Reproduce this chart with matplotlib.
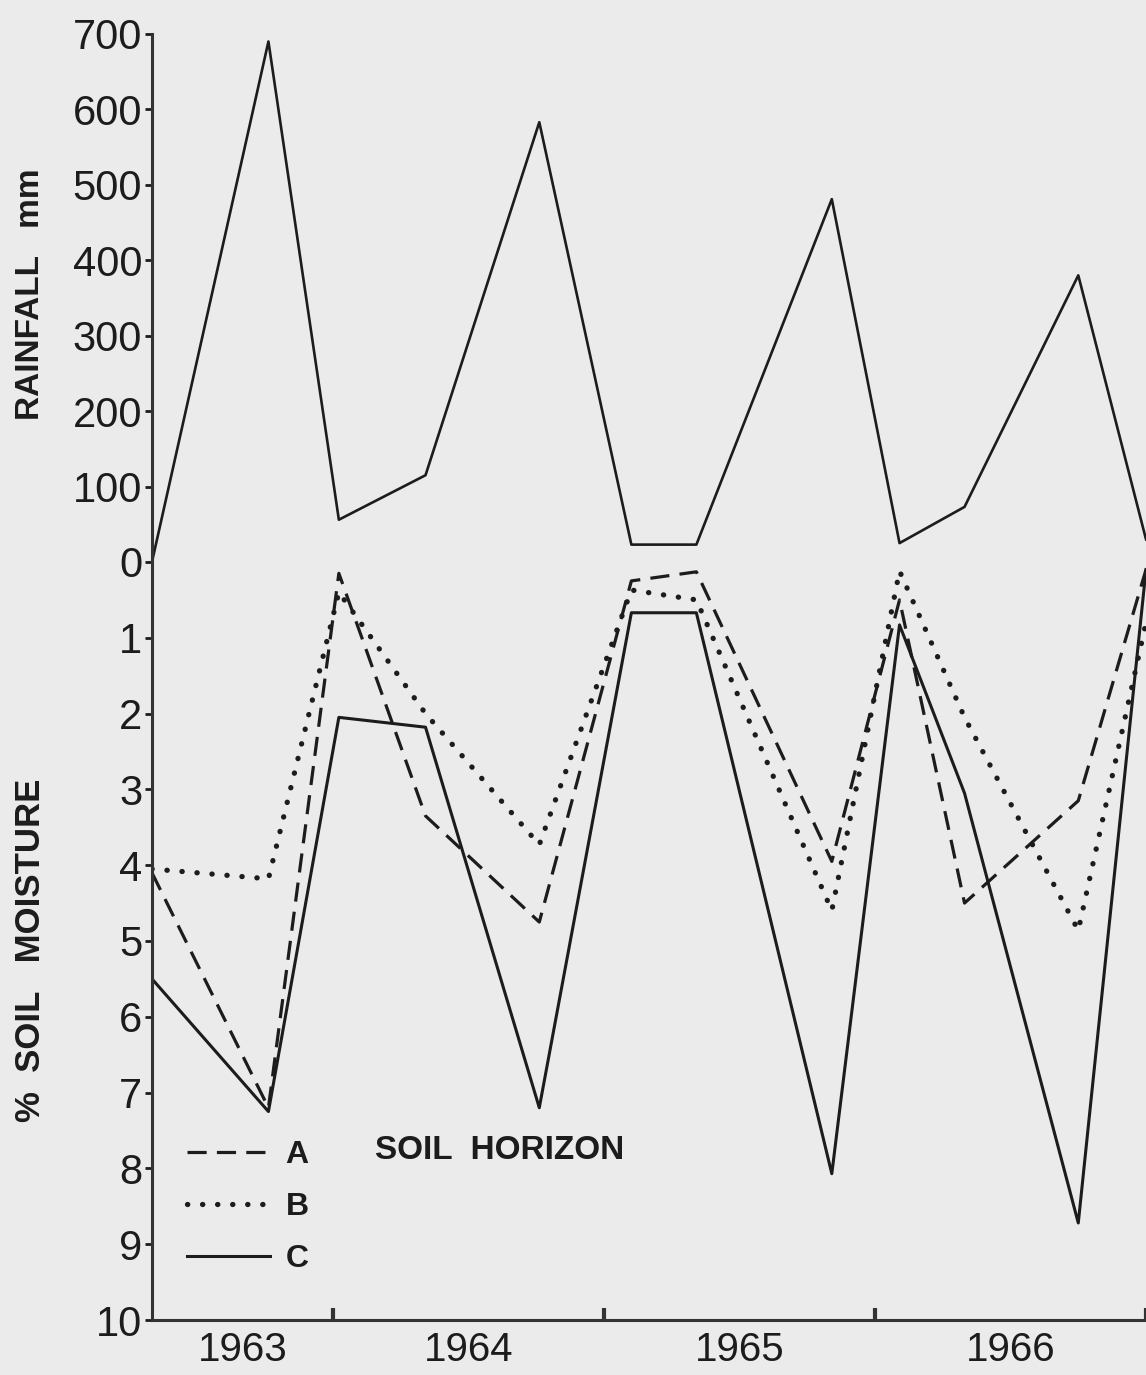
import matplotlib
matplotlib.use('Agg')
import matplotlib.pyplot as plt
from matplotlib.ticker import FixedLocator, NullFormatter

# Data section
# sample dates (decimal years), shared by rainfall and soil moisture
dates = [1963.33, 1963.76, 1964.02, 1964.34, 1964.76, 1965.10,
         1965.34, 1965.84, 1966.09, 1966.33, 1966.75, 1967.00]
rainfall = [0, 690, 56, 115, 583, 23, 23, 481, 25, 73, 380, 30]

# % soil moisture per horizon
horizon_a = [4.1, 7.2, 0.15, 3.35, 4.75, 0.25, 0.13, 3.95, 0.5, 4.5, 3.15, 0.1]
horizon_b = [4.05, 4.18, 0.4, 2.0, 3.73, 0.37, 0.5, 4.6, 0.12, 2.05, 4.86, 0.8]
horizon_c = [5.5, 7.25, 2.05, 2.18, 7.2, 0.67, 0.67, 8.07, 0.83, 3.05, 8.72, 0.1]

year_labels = ['1963', '1964', '1965', '1966']
year_label_pos = [1963.665, 1964.5, 1965.5, 1966.5]
year_bounds = [1964, 1965, 1966, 1967]

rain_ticks = [0, 100, 200, 300, 400, 500, 600, 700]
moist_ticks = [1, 2, 3, 4, 5, 6, 7, 8, 9, 10]

# Style
bg = '#ebebeb'
ink = '#1c1c1c'
plt.rcParams['font.family'] = ['Liberation Sans', 'DejaVu Sans']

fig = plt.figure(figsize=(11.46, 13.75), dpi=100, facecolor=bg)
ax_top = fig.add_axes([0.1326, 0.5913, 0.8674, 0.3840], facecolor=bg)
ax_bot = fig.add_axes([0.1326, 0.0400, 0.8674, 0.5513], facecolor=bg, sharex=ax_top)

# Rainfall panel
ax_top.plot(dates, rainfall, color=ink, lw=1.9, clip_on=False)
ax_top.set_ylim(0, 700)
ax_top.set_xlim(1963.33, 1967.0)
ax_top.set_yticks(rain_ticks)
ax_top.set_yticklabels([str(v) for v in rain_ticks])
for s in ['top', 'right', 'bottom']:
    ax_top.spines[s].set_visible(False)
ax_top.spines['left'].set_linewidth(2.2)
ax_top.spines['left'].set_color('#333333')
ax_top.tick_params(axis='y', direction='out', length=5, width=2, pad=2,
                   labelsize=30, colors=ink)
ax_top.tick_params(axis='x', which='both', bottom=False, labelbottom=False)

# Soil moisture panel
la, = ax_bot.plot(dates, horizon_a, color=ink, lw=2.3, linestyle=(0, (6, 3.2)),
                  label='A')
lb, = ax_bot.plot(dates, horizon_b, color=ink, lw=3.8, linestyle=(0, (0.05, 2.8)),
                  dash_capstyle='round', label='B')
lc, = ax_bot.plot(dates, horizon_c, color=ink, lw=2.2, label='C')
ax_bot.set_ylim(10, 0)
ax_bot.set_yticks(moist_ticks)
ax_bot.set_yticklabels([str(v) for v in moist_ticks])
for s in ['top', 'right']:
    ax_bot.spines[s].set_visible(False)
for s in ['left', 'bottom']:
    ax_bot.spines[s].set_linewidth(2.2)
    ax_bot.spines[s].set_color('#333333')
ax_bot.tick_params(axis='y', direction='out', length=5, width=2, pad=2,
                   labelsize=30, colors=ink)

# years: boundary ticks pointing inward, labels centred in each year
ax_bot.xaxis.set_major_locator(FixedLocator(year_bounds))
ax_bot.xaxis.set_major_formatter(NullFormatter())
ax_bot.xaxis.set_minor_locator(FixedLocator(year_label_pos))
ax_bot.set_xticklabels(year_labels, minor=True)
ax_bot.tick_params(axis='x', which='major', direction='in', length=9, width=3,
                   colors='#333333')
ax_bot.tick_params(axis='x', which='minor', length=0, pad=8, labelsize=29,
                   labelcolor=ink)

# legend
leg = ax_bot.legend(handles=[la, lb, lc], loc='upper left',
                    bbox_to_anchor=(0.006, 0.275), frameon=False,
                    handlelength=2.6, handletextpad=0.5, labelspacing=0.68,
                    prop={'weight': 'bold', 'size': 23})
for t in leg.get_texts():
    t.set_color(ink)
ax_bot.text(0.224, 0.224, 'SOIL  HORIZON', transform=ax_bot.transAxes,
            fontsize=24, fontweight='bold', color=ink, va='center', ha='left')

# axis titles
fig.text(0.027, 0.786, 'RAINFALL   mm', rotation=90, fontsize=24,
         fontweight='bold', color=ink, ha='center', va='center')
fig.text(0.027, 0.309, '%  SOIL   MOISTURE', rotation=90, fontsize=25,
         fontweight='bold', color=ink, ha='center', va='center')

fig.savefig('out.png', dpi=100, facecolor=bg)
